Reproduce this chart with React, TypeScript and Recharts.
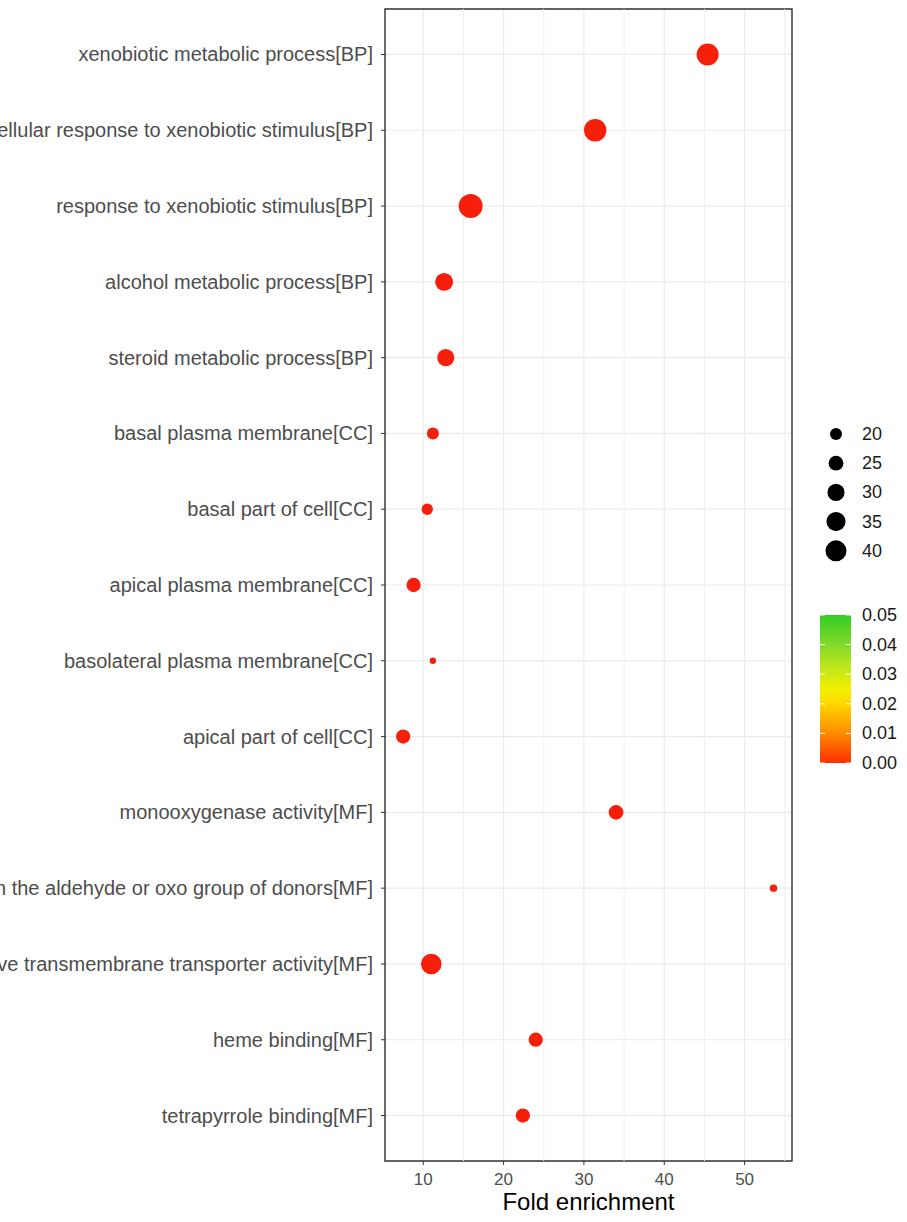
import React from "react";
import {
  ScatterChart,
  Scatter,
  XAxis,
  YAxis,
  ZAxis,
  CartesianGrid,
  ReferenceLine,
  ReferenceArea,
  Legend,
} from "recharts";

const FONT = "'Liberation Sans', Arial, Helvetica, sans-serif";
const DOT = "#F71E0A";

// GO terms, top to bottom
const terms = [
  "xenobiotic metabolic process[BP]",
  "cellular response to xenobiotic stimulus[BP]",
  "response to xenobiotic stimulus[BP]",
  "alcohol metabolic process[BP]",
  "steroid metabolic process[BP]",
  "basal plasma membrane[CC]",
  "basal part of cell[CC]",
  "apical plasma membrane[CC]",
  "basolateral plasma membrane[CC]",
  "apical part of cell[CC]",
  "monooxygenase activity[MF]",
  "oxidoreductase activity, acting on the aldehyde or oxo group of donors[MF]",
  "active transmembrane transporter activity[MF]",
  "heme binding[MF]",
  "tetrapyrrole binding[MF]",
];

const foldEnrichment = [45.4, 31.4, 15.9, 12.6, 12.8, 11.2, 10.5, 8.8, 11.2, 7.5, 34.0, 53.6, 11.0, 24.0, 22.4];
const geneCount = [43, 44, 49, 32, 30, 20, 19, 24, 13, 24, 25, 14, 39, 24, 24];

const xTicks = [10, 20, 30, 40, 50];
const xMinor = [15, 25, 35, 45, 55];
const sizeBreaks = [20, 25, 30, 35, 40];
const pBreaks = [0.05, 0.04, 0.03, 0.02, 0.01, 0.0];

// size scale: count -> symbol area (px^2)
const Z_DOMAIN = [13, 49];
const Z_RANGE = [Math.PI * 10.1, Math.PI * 143.3];
const radiusOf = (v: number) => {
  const t = (v - Z_DOMAIN[0]) / (Z_DOMAIN[1] - Z_DOMAIN[0]);
  const area = Z_RANGE[0] + t * (Z_RANGE[1] - Z_RANGE[0]);
  return Math.sqrt(area / Math.PI);
};

const data = terms.map((term, i) => ({
  term,
  idx: i + 1,
  fe: foldEnrichment[i],
  count: geneCount[i],
}));

// single-line term label (long ones run off the left edge like the original)
const TermTick = (props: any) => {
  const { x, y, payload } = props;
  return (
    <text
      x={x}
      y={y}
      textAnchor="end"
      dominantBaseline="central"
      fontSize={20}
      fontFamily={FONT}
      fill="#4D4D4D"
    >
      {terms[payload.value - 1]}
    </text>
  );
};

const LegendBox = () => {
  const barTop = 199;
  const barH = 148;
  return (
    <svg width={99} height={360} style={{ display: "block" }}>
      <defs>
        <linearGradient id="pgrad" x1="0" y1="1" x2="0" y2="0">
          <stop offset="0%" stopColor="#FF2E00" />
          <stop offset="20%" stopColor="#FF8A00" />
          <stop offset="40%" stopColor="#FFD800" />
          <stop offset="50%" stopColor="#F2F000" />
          <stop offset="65%" stopColor="#BDE61C" />
          <stop offset="82%" stopColor="#7AD82A" />
          <stop offset="100%" stopColor="#33CC22" />
        </linearGradient>
      </defs>
      {sizeBreaks.map((v, i) => {
        const cy = 18 + i * 29.2;
        return (
          <g key={v}>
            <circle cx={28} cy={cy} r={radiusOf(v)} fill="#000" />
            <text x={54} y={cy} dominantBaseline="central" fontSize={18} fontFamily={FONT} fill="#1A1A1A">
              {v}
            </text>
          </g>
        );
      })}
      <rect x={12} y={barTop} width={31} height={barH} fill="url(#pgrad)" />
      {pBreaks.map((p) => {
        const y = barTop + ((0.05 - p) / 0.05) * barH;
        return (
          <g key={p}>
            <line x1={12} x2={17} y1={y} y2={y} stroke="#fff" strokeWidth={1} />
            <line x1={38} x2={43} y1={y} y2={y} stroke="#fff" strokeWidth={1} />
            <text x={54} y={y} dominantBaseline="central" fontSize={18} fontFamily={FONT} fill="#1A1A1A">
              {p.toFixed(2)}
            </text>
          </g>
        );
      })}
    </svg>
  );
};

export default function App() {
  return (
    <div style={{ position: "absolute", left: 0, top: 0, background: "#fff" }}>
      <ScatterChart width={907} height={1222} margin={{ top: 9, right: 115, bottom: 6, left: 0 }}>
        <CartesianGrid stroke="#EBEBEB" strokeWidth={1.2} />
        {xMinor.map((v) => (
          <ReferenceLine key={v} x={v} stroke="#F0F0F0" strokeWidth={1} />
        ))}
        <XAxis
          type="number"
          dataKey="fe"
          domain={[5.24, 55.9]}
          allowDataOverflow
          ticks={xTicks}
          axisLine={false}
          tickLine={{ stroke: "#333333" }}
          tickSize={4}
          tickMargin={8}
          height={55}
          tick={{ fill: "#4D4D4D", fontSize: 17, fontFamily: FONT }}
          label={{
            value: "Fold enrichment",
            position: "insideBottom",
            offset: 6,
            style: { fill: "#000", fontSize: 24, fontFamily: FONT },
          }}
        />
        <YAxis
          type="number"
          dataKey="idx"
          domain={[0.4, 15.6]}
          allowDataOverflow
          reversed
          ticks={terms.map((_, i) => i + 1)}
          interval={0}
          width={385}
          axisLine={false}
          tickLine={{ stroke: "#333333" }}
          tickSize={4}
          tickMargin={8}
          tick={<TermTick />}
        />
        <ZAxis type="number" dataKey="count" domain={Z_DOMAIN} range={Z_RANGE} />
        <Scatter data={data} fill={DOT} shape="circle" isAnimationActive={false} />
        <ReferenceArea
          x1={5.24}
          x2={55.9}
          y1={0.4}
          y2={15.6}
          fill="none"
          fillOpacity={0}
          stroke="#333333"
          strokeWidth={1.4}
        />
        <Legend
          layout="horizontal"
          align="center"
          verticalAlign="middle"
          wrapperStyle={{ left: 808, top: 416, width: 99 }}
          content={() => <LegendBox />}
        />
      </ScatterChart>
    </div>
  );
}
